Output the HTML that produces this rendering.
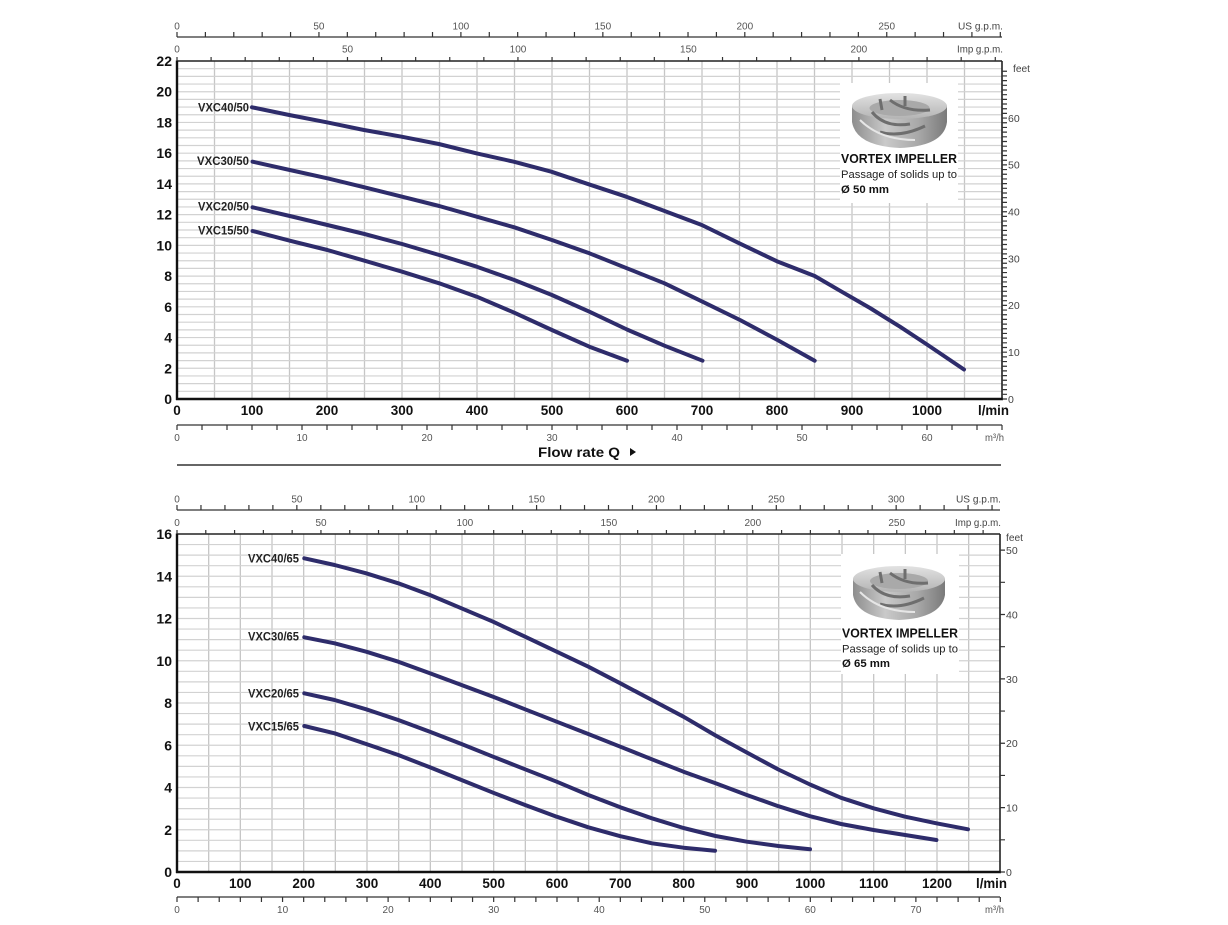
<!DOCTYPE html>
<html><head><meta charset="utf-8"><style>
html,body{margin:0;padding:0;background:#fff;}
svg{display:block;}
text{font-family:"Liberation Sans",Arial,sans-serif;}
.yl{font-size:14px;font-weight:bold;fill:#111;text-anchor:end;}
.xl{font-size:13.5px;font-weight:bold;fill:#111;text-anchor:middle;}
.sm{font-size:10px;fill:#555;text-anchor:middle;}
.ft{font-size:10.5px;fill:#444;}
.cl{font-size:12px;font-weight:bold;fill:#222;}
.cv{fill:none;stroke:#2e2c6b;stroke-width:4;stroke-linejoin:round;stroke-linecap:round;}
</style></head><body>
<svg width="1228" height="925" viewBox="0 0 1228 925" xmlns="http://www.w3.org/2000/svg">
<rect width="1228" height="925" fill="#fff"/>
<defs>
<linearGradient id="ig" x1="0" y1="0" x2="1" y2="0">
<stop offset="0" stop-color="#8d8d8d"/><stop offset="0.35" stop-color="#c9c9c9"/><stop offset="0.7" stop-color="#a8a8a8"/><stop offset="1" stop-color="#7a7a7a"/>
</linearGradient>
<linearGradient id="it" x1="0" y1="0" x2="0" y2="1">
<stop offset="0" stop-color="#e2e2e2"/><stop offset="1" stop-color="#b4b4b4"/>
</linearGradient>
</defs>

<!-- ================= TOP CHART ================= -->
<!-- grid -->
<line x1="213.85" y1="230" x2="1001" y2="230" stroke="#c6c6c6" stroke-width="337" stroke-dasharray="1.3 36.2"/>
<line x1="589.5" y1="391.92" x2="589.5" y2="62" stroke="#d2d2d2" stroke-width="824" stroke-dasharray="1.2 6.482"/>
<!-- info box -->
<rect x="840" y="83" width="118" height="120" fill="#fff"/>
<g>
<path d="M852,106 L852,122 Q856,146 900,148 Q944,146 947,122 L947,106 Z" fill="url(#ig)"/>
<ellipse cx="899.5" cy="106" rx="47.5" ry="13" fill="url(#it)"/>
<ellipse cx="899.5" cy="108" rx="30" ry="8" fill="#a9a9a9"/>
<path d="M872,112 Q885,128 910,124 M890,100 Q905,112 930,110 M880,132 Q900,138 925,126 M905,96 L905,106 M880,99 L882,110" stroke="#6e6e6e" stroke-width="3" fill="none"/>
<path d="M860,120 Q880,140 915,140" stroke="#e6e6e6" stroke-width="2" fill="none"/>
</g>
<text x="841" y="163" class="cl" textLength="116" lengthAdjust="spacingAndGlyphs" style="font-size:12.5px;fill:#111">VORTEX IMPELLER</text>
<text x="841" y="178" textLength="116" lengthAdjust="spacingAndGlyphs" style="font-size:11px;fill:#222">Passage of solids up to</text>
<text x="841" y="193" textLength="48" lengthAdjust="spacingAndGlyphs" style="font-size:11px;font-weight:bold;fill:#111">Ø 50 mm</text>

<!-- borders -->
<line x1="177" y1="61" x2="1002" y2="61" stroke="#222" stroke-width="1.6"/>
<line x1="1002" y1="61" x2="1002" y2="399" stroke="#222" stroke-width="1.6"/>
<line x1="177" y1="60.5" x2="177" y2="400" stroke="#111" stroke-width="2.4"/>
<line x1="176" y1="399" x2="1003" y2="399" stroke="#111" stroke-width="2.4"/>

<!-- top axes -->
<line x1="177" y1="37" x2="1002" y2="37" stroke="#333" stroke-width="1.3"/>
<line x1="176.4" y1="34.5" x2="1002" y2="34.5" stroke="#333" stroke-width="5" stroke-dasharray="1.2 27.19"/>
<line x1="176.4" y1="59" x2="1002" y2="59" stroke="#333" stroke-width="4" stroke-dasharray="1.2 32.895"/>
<g class="sm">
<text x="177" y="29.5">0</text><text x="318.9" y="29.5">50</text><text x="460.9" y="29.5">100</text><text x="602.8" y="29.5">150</text><text x="744.8" y="29.5">200</text><text x="886.7" y="29.5">250</text>
<text x="177" y="52.5">0</text><text x="347.5" y="52.5">50</text><text x="518" y="52.5">100</text><text x="688.4" y="52.5">150</text><text x="858.9" y="52.5">200</text>
</g>
<text x="958" y="29.5" textLength="45" lengthAdjust="spacingAndGlyphs" style="font-size:10.5px;fill:#444">US g.p.m.</text>
<text x="957" y="52.5" textLength="46" lengthAdjust="spacingAndGlyphs" style="font-size:10.5px;fill:#444">Imp g.p.m.</text>

<!-- y labels -->
<g class="yl">
<text x="172" y="404">0</text><text x="172" y="373.3">2</text><text x="172" y="342.5">4</text><text x="172" y="311.8">6</text><text x="172" y="281.1">8</text><text x="172" y="250.4">10</text><text x="172" y="219.6">12</text><text x="172" y="188.9">14</text><text x="172" y="158.2">16</text><text x="172" y="127.4">18</text><text x="172" y="96.7">20</text><text x="172" y="66">22</text>
</g>
<!-- x labels -->
<g class="xl">
<text x="177" y="415">0</text><text x="252" y="415">100</text><text x="327" y="415">200</text><text x="402" y="415">300</text><text x="477" y="415">400</text><text x="552" y="415">500</text><text x="627" y="415">600</text><text x="702" y="415">700</text><text x="777" y="415">800</text><text x="852" y="415">900</text><text x="927" y="415">1000</text>
</g>
<text x="978" y="415" textLength="31" lengthAdjust="spacingAndGlyphs" style="font-size:13.5px;font-weight:bold;fill:#111">l/min</text>

<!-- right feet axis -->
<line x1="1004.5" y1="399.6" x2="1004.5" y2="70" stroke="#333" stroke-width="5" stroke-dasharray="1.2 3.482"/>
<g class="ft">
<text x="1008" y="403">0</text><text x="1008" y="356">10</text><text x="1008" y="309.2">20</text><text x="1008" y="262.3">30</text><text x="1008" y="215.5">40</text><text x="1008" y="168.7">50</text><text x="1008" y="121.9">60</text>
<text x="1013" y="72" textLength="17" lengthAdjust="spacingAndGlyphs">feet</text>
</g>

<!-- m3/h axis -->
<line x1="177" y1="425" x2="1002" y2="425" stroke="#333" stroke-width="1.3"/>
<line x1="176.4" y1="427.5" x2="1003" y2="427.5" stroke="#333" stroke-width="5" stroke-dasharray="1.2 23.8"/>
<g class="sm">
<text x="177" y="441">0</text><text x="302" y="441">10</text><text x="427" y="441">20</text><text x="552" y="441">30</text><text x="677" y="441">40</text><text x="802" y="441">50</text><text x="927" y="441">60</text>
</g>
<text x="985" y="441" textLength="19" lengthAdjust="spacingAndGlyphs" style="font-size:10px;fill:#555">m³/h</text>

<text x="538" y="457" textLength="82" lengthAdjust="spacingAndGlyphs" style="font-size:14px;font-weight:bold;fill:#111">Flow rate Q</text>
<path d="M630,448 L636,452 L630,456 Z" fill="#111"/>
<line x1="177" y1="465" x2="1001" y2="465" stroke="#333" stroke-width="1.5"/>

<!-- curves top -->
<polyline class="cv" points="252,107.3 289.2,115 326.8,122.3 364,130 401.6,136.7 438.8,144 476.3,153.3 513.8,161.7 551.3,171.7 588.8,184.3 626.3,196.7 663.9,210.7 701.8,225 739.3,243.3 776.8,261.2 814.7,276 840.8,291.2 870,308 900,326.7 927,344.5 964,369.5"/>
<polyline class="cv" points="252.6,161.7 289.8,170 327.4,178.3 364.5,187.3 402.1,196.7 439.2,206 476.8,216.7 514.3,227.3 551.9,240 589.4,253.3 627,268.3 664.5,283.3 702.5,301.7 740,320 777.5,340 814.7,360.7"/>
<polyline class="cv" points="252.6,207.3 289.8,216 327.4,225 364.5,234 402.1,244 439.2,255 476.8,266.7 514.3,280 551.9,295 589.4,311.7 627,329.5 664.5,345.7 702.5,360.7"/>
<polyline class="cv" points="252.6,231 289.8,240.7 327.4,250 364.5,260.7 402.1,271.7 439.2,283.3 476.8,296.7 514.3,312.7 551.9,330 589.4,346.7 627,360.7"/>
<g class="cl">
<text x="198" y="111.5" textLength="51" lengthAdjust="spacingAndGlyphs">VXC40/50</text>
<text x="197" y="165" textLength="52" lengthAdjust="spacingAndGlyphs">VXC30/50</text>
<text x="198" y="210.5" textLength="51" lengthAdjust="spacingAndGlyphs">VXC20/50</text>
<text x="198" y="234.5" textLength="51" lengthAdjust="spacingAndGlyphs">VXC15/50</text>
</g>

<!-- ================= BOTTOM CHART ================= -->
<line x1="208.02" y1="703" x2="999" y2="703" stroke="#c6c6c6" stroke-width="337" stroke-dasharray="1.3 30.367"/>
<line x1="588.5" y1="862.04" x2="588.5" y2="535" stroke="#d2d2d2" stroke-width="822" stroke-dasharray="1.2 9.3625"/>
<rect x="841" y="554" width="118" height="120" fill="#fff"/>
<g>
<path d="M853,579 L853,595 Q857,618 899,620 Q941,618 945,595 L945,579 Z" fill="url(#ig)"/>
<ellipse cx="899" cy="579" rx="46" ry="13" fill="url(#it)"/>
<ellipse cx="899" cy="581" rx="29" ry="8" fill="#a9a9a9"/>
<path d="M872,585 Q885,600 910,596 M890,573 Q905,585 928,583 M880,604 Q900,610 924,598 M905,569 L905,579 M880,572 L882,583" stroke="#6e6e6e" stroke-width="3" fill="none"/>
<path d="M860,592 Q880,612 915,612" stroke="#e6e6e6" stroke-width="2" fill="none"/>
</g>
<text x="842" y="637.5" textLength="116" lengthAdjust="spacingAndGlyphs" style="font-size:12.5px;font-weight:bold;fill:#111">VORTEX IMPELLER</text>
<text x="842" y="652.5" textLength="116" lengthAdjust="spacingAndGlyphs" style="font-size:11px;fill:#222">Passage of solids up to</text>
<text x="842" y="667" textLength="48" lengthAdjust="spacingAndGlyphs" style="font-size:11px;font-weight:bold;fill:#111">Ø 65 mm</text>

<line x1="177" y1="534" x2="1000" y2="534" stroke="#222" stroke-width="1.6"/>
<line x1="1000" y1="534" x2="1000" y2="872" stroke="#222" stroke-width="1.6"/>
<line x1="177" y1="533.5" x2="177" y2="873" stroke="#111" stroke-width="2.4"/>
<line x1="176" y1="872" x2="1001" y2="872" stroke="#111" stroke-width="2.4"/>

<line x1="177" y1="510" x2="1000" y2="510" stroke="#333" stroke-width="1.3"/>
<line x1="176.4" y1="507.5" x2="1000" y2="507.5" stroke="#333" stroke-width="5" stroke-dasharray="1.2 22.772"/>
<line x1="176.4" y1="532" x2="1000" y2="532" stroke="#333" stroke-width="4" stroke-dasharray="1.2 27.59"/>
<g class="sm">
<text x="177" y="502.5">0</text><text x="296.9" y="502.5">50</text><text x="416.7" y="502.5">100</text><text x="536.6" y="502.5">150</text><text x="656.4" y="502.5">200</text><text x="776.3" y="502.5">250</text><text x="896.2" y="502.5">300</text>
<text x="177" y="526">0</text><text x="321" y="526">50</text><text x="464.9" y="526">100</text><text x="608.8" y="526">150</text><text x="752.8" y="526">200</text><text x="896.7" y="526">250</text>
</g>
<text x="956" y="502.5" textLength="45" lengthAdjust="spacingAndGlyphs" style="font-size:10.5px;fill:#444">US g.p.m.</text>
<text x="955" y="526" textLength="46" lengthAdjust="spacingAndGlyphs" style="font-size:10.5px;fill:#444">Imp g.p.m.</text>

<g class="yl">
<text x="172" y="877">0</text><text x="172" y="834.75">2</text><text x="172" y="792.5">4</text><text x="172" y="750.25">6</text><text x="172" y="708">8</text><text x="172" y="665.75">10</text><text x="172" y="623.5">12</text><text x="172" y="581.25">14</text><text x="172" y="539">16</text>
</g>
<g class="xl">
<text x="177" y="888">0</text><text x="240.3" y="888">100</text><text x="303.7" y="888">200</text><text x="367" y="888">300</text><text x="430.3" y="888">400</text><text x="493.7" y="888">500</text><text x="557" y="888">600</text><text x="620.3" y="888">700</text><text x="683.7" y="888">800</text><text x="747" y="888">900</text><text x="810.3" y="888">1000</text><text x="873.7" y="888">1100</text><text x="937" y="888">1200</text>
</g>
<text x="976" y="888" textLength="31" lengthAdjust="spacingAndGlyphs" style="font-size:13.5px;font-weight:bold;fill:#111">l/min</text>

<line x1="1002.5" y1="872.6" x2="1002.5" y2="540" stroke="#333" stroke-width="5" stroke-dasharray="1.2 30.99"/>
<g class="ft">
<text x="1006" y="876">0</text><text x="1006" y="811.6">10</text><text x="1006" y="747.2">20</text><text x="1006" y="682.8">30</text><text x="1006" y="618.4">40</text><text x="1006" y="554">50</text>
<text x="1006" y="541" textLength="17" lengthAdjust="spacingAndGlyphs">feet</text>
</g>

<line x1="177" y1="897" x2="1000" y2="897" stroke="#333" stroke-width="1.3"/>
<line x1="176.4" y1="899.5" x2="1001" y2="899.5" stroke="#333" stroke-width="5" stroke-dasharray="1.2 19.911"/>
<g class="sm">
<text x="177" y="913">0</text><text x="282.6" y="913">10</text><text x="388.1" y="913">20</text><text x="493.7" y="913">30</text><text x="599.2" y="913">40</text><text x="704.8" y="913">50</text><text x="810.3" y="913">60</text><text x="915.9" y="913">70</text>
</g>
<text x="985" y="913" textLength="19" lengthAdjust="spacingAndGlyphs" style="font-size:10px;fill:#555">m³/h</text>

<polyline class="cv" points="304.3,558.3 334.6,565 366.2,573.3 398.3,583.3 429.9,595 461.5,608.3 493.1,621.7 525.1,636.7 556.7,651.7 588.3,666.7 620.3,683.3 651.9,700 683.5,716.7 715.6,735.5 746.8,752.5 778.4,769.5 810,784.5 841.1,797.8 873.6,808.3 905.2,816.7 936.4,823.3 968,829.3"/>
<polyline class="cv" points="304.3,637.3 334.6,643.3 366.2,651.7 398.3,661.7 429.9,673.3 461.5,685 493.1,696.7 525.1,709.3 556.7,721.7 588.3,734 620.3,746.7 651.9,759.3 683.5,771.7 715.6,783.3 746.8,795 778.4,806.2 810,816.2 841.1,824 873.6,830 905.2,835 936.4,840"/>
<polyline class="cv" points="304.3,693.3 334.6,700 366.2,709.3 398.3,720 429.9,731.7 461.5,744 493.1,756.7 525.1,769.3 556.7,781.7 588.3,795 620.3,807.3 651.9,818.3 683.5,828 715.6,836 746.8,841.7 778.4,846 810,849.3"/>
<polyline class="cv" points="304.3,726 334.6,733.3 366.2,744 398.3,755 429.9,767.3 461.5,780 493.1,792.7 525.1,805 556.7,816.7 588.3,827.3 620.3,836.2 651.9,843.3 683.5,847.7 715,850.7"/>
<g class="cl">
<text x="248" y="562.5" textLength="51" lengthAdjust="spacingAndGlyphs">VXC40/65</text>
<text x="248" y="640.5" textLength="51" lengthAdjust="spacingAndGlyphs">VXC30/65</text>
<text x="248" y="697.5" textLength="51" lengthAdjust="spacingAndGlyphs">VXC20/65</text>
<text x="248" y="730.5" textLength="51" lengthAdjust="spacingAndGlyphs">VXC15/65</text>
</g>
</svg>
</body></html>
